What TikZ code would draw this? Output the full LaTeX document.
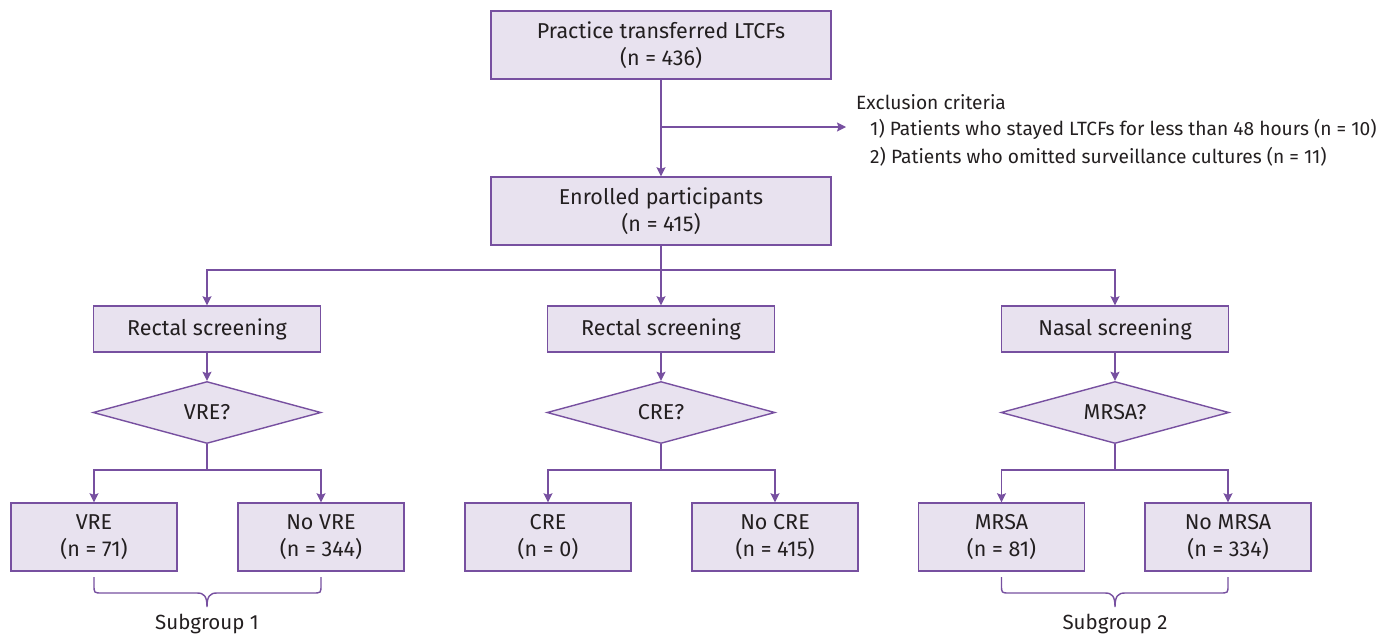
\documentclass[tikz,border=0pt]{standalone}
\usepackage{fontspec}
\setmainfont{Fira Sans}
\usetikzlibrary{arrows.meta,shapes.geometric}
\definecolor{pline}{HTML}{7750A0}
\definecolor{pfill}{HTML}{E8E2EF}
\definecolor{ptext}{HTML}{231F20}
\tikzset{
  box/.style={draw=pline,fill=pfill,line width=1.4pt,text=ptext,font=\fontsize{21.5}{27}\selectfont,align=center,inner sep=0pt},
  dia/.style={draw=pline,fill=pfill,line width=1.4pt,text=ptext,font=\fontsize{21.5}{27}\selectfont,diamond,aspect=3.7,inner sep=0pt},
  conn/.style={draw=pline,line width=1.4pt},
  arr/.style={conn,-{Stealth[length=9pt,width=9pt,inset=1.5pt]}},
  lbl/.style={text=ptext,font=\fontsize{19.2}{24}\selectfont,inner sep=0pt,anchor=west},
}
\begin{document}
\begin{tikzpicture}[x=1pt,y=-1pt]
\useasboundingbox (0,0) rectangle (1381,637);
% top
\node[box,minimum width=340pt,minimum height=68pt] (top) at (661,45) {Practice transferred LTCFs\\(n = 436)};
\node[box,minimum width=340pt,minimum height=68pt] (enr) at (661,211) {Enrolled participants\\(n = 415)};
\coordinate (br) at (661,127);
\coordinate (exend) at (846,127);
\draw[arr] (top.south) -- (enr.north);
\draw[arr] (br) -- (exend);
\node[lbl] (ex0) at (856,102) {Exclusion criteria};
\node[lbl] (ex1) at (870,129) {1) Patients who stayed LTCFs for less than 48 hours (n = 10)};
\node[lbl] (ex2) at (870,157) {2) Patients who omitted surveillance cultures (n = 11)};
% screening
\foreach \n/\x/\t in {s1/207/Rectal screening, s2/661/Rectal screening, s3/1115/Nasal screening}{
  \node[box,minimum width=227pt,minimum height=46pt] (\n) at (\x,329) {\t};
}
\coordinate (h1) at (661,270);
\draw[conn] (enr.south) -- (h1);
\draw[arr] (h1) -| (s1.north);
\draw[arr] (h1) -| (s3.north);
\draw[arr] (h1) -- (s2.north);
% diamonds
\foreach \n/\x/\t in {d1/207/VRE?, d2/661/CRE?, d3/1115/MRSA?}{
  \node[dia,minimum width=228pt,minimum height=62pt] (\n) at (\x,412.5) {\t};
}
\draw[arr] (s1.south) -- (d1.north);
\draw[arr] (s2.south) -- (d2.north);
\draw[arr] (s3.south) -- (d3.north);
% outcome boxes
\foreach \n/\x/\t in {o1/94/{VRE\\(n = 71)}, o2/321/{No VRE\\(n = 344)}, o3/548/{CRE\\(n = 0)}, o4/775/{No CRE\\(n = 415)}, o5/1001.5/{MRSA\\(n = 81)}, o6/1228/{No MRSA\\(n = 334)}}{
  \node[box,minimum width=166pt,minimum height=68pt] (\n) at (\x,537) {\t};
}
\foreach \d/\a/\b/\x in {d1/o1/o2/207, d2/o3/o4/661, d3/o5/o6/1115}{
  \coordinate (\d h) at (\x,470);
  \draw[conn] (\d.south) -- (\d h);
  \draw[arr] (\d h) -| (\a.north);
  \draw[arr] (\d h) -| (\b.north);
}
% braces
\foreach \xa/\xb/\x/\k/\t in {94/321/207/g1/Subgroup 1, 1001.5/1228/1115/g2/Subgroup 2}{
  \draw[conn] (\xa,577) -- (\xa,585) .. controls (\xa,593) .. (\xa+8,593) -- (\x-10,593)
     .. controls (\x-3,593) and (\x,596) .. (\x,607)
     .. controls (\x,596) and (\x+3,593) .. (\x+10,593) -- (\xb-8,593) .. controls (\xb,593) .. (\xb,585) -- (\xb,577);
  \node[text=ptext,font=\fontsize{20.5}{24}\selectfont,inner sep=0pt] (\k) at (\x,624) {\t};
}
\end{tikzpicture}
\end{document}
